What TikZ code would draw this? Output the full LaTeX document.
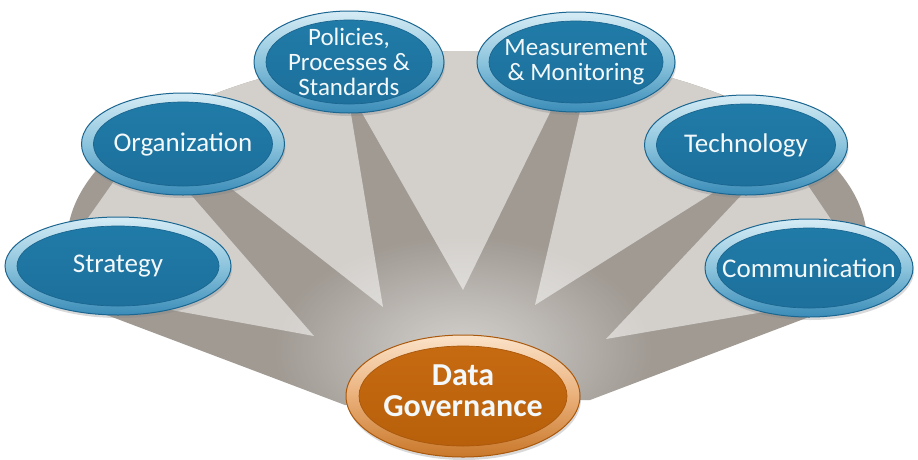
\documentclass[tikz,border=0pt]{standalone}
\usepackage{fontspec}
\newfontfamily\dgfont{Carlito}
\usetikzlibrary{shapes.geometric,shadows,fadings}
\definecolor{fandark}{HTML}{A09A93}
\definecolor{fanlight}{HTML}{D3D0CC}
\definecolor{bluedge}{HTML}{1B6690}
\definecolor{ringtop}{HTML}{D6ECF5}
\definecolor{ringmid}{HTML}{8CC4DD}
\definecolor{ringbot}{HTML}{3A8CB8}
\definecolor{coretop}{HTML}{217CA9}
\definecolor{corebot}{HTML}{1C6F9A}
\definecolor{oedge}{HTML}{A9580C}
\definecolor{oringtop}{HTML}{FBE3C9}
\definecolor{oringmid}{HTML}{EAB07A}
\definecolor{oringbot}{HTML}{C9782A}
\definecolor{ocoretop}{HTML}{C86C12}
\definecolor{ocorebot}{HTML}{B65E0A}
\definecolor{bubtextcol}{HTML}{F3F8FA}
\tikzfading[name=dgglow, inner color=transparent!0, outer color=transparent!100]
\begin{document}
\begin{tikzpicture}[x=1pt,y=-1pt,
  bubtext/.style={text=bubtextcol, font=\dgfont\fontsize{27}{25}\selectfont, align=center, inner sep=0pt},
  bubtextsm/.style={bubtext, font=\dgfont\fontsize{25}{25}\selectfont},
  dgtext/.style={text=bubtextcol, font=\dgfont\bfseries\fontsize{32}{31}\selectfont, align=center, inner sep=0pt},
  gap/.style={fill=fanlight},
  bluebub/.style 2 args={ellipse, minimum width=#1pt, minimum height=#2pt, inner sep=0pt,
    draw=bluedge, line width=1pt, top color=ringtop, bottom color=ringbot, middle color=ringmid,
    drop shadow={opacity=0.3, shadow xshift=1pt, shadow yshift=-3pt},
    path picture={\shade[top color=coretop, bottom color=corebot, draw=bluedge, line width=0.7pt]
      (path picture bounding box.center) ellipse [x radius={#1*0.5pt-12pt}, y radius={#2*0.5pt-9pt}];}},
  orangebub/.style 2 args={ellipse, minimum width=#1pt, minimum height=#2pt, inner sep=0pt,
    draw=oedge, line width=1pt, top color=oringtop, bottom color=oringbot, middle color=oringmid,
    drop shadow={opacity=0.3, shadow xshift=1pt, shadow yshift=-3pt},
    path picture={\shade[top color=ocoretop, bottom color=ocorebot, draw=oedge, line width=0.7pt]
      (path picture bounding box.center) ellipse [x radius={#1*0.5pt-13pt}, y radius={#2*0.5pt-11pt}];}},
]
\useasboundingbox (0,0) rectangle (918,459);
% fan background
\fill[fandark] (345,405) -- (67,300) -- (67,242)
  -- plot[domain=180:0,samples=90] ({467+400*cos(\x)},{242-191*sin(\x)})
  -- (867,295) -- (590,400) -- cycle;
\begin{scope}
  \clip (345,405) -- (67,300) -- (67,242)
    -- plot[domain=180:0,samples=90] ({467+400*cos(\x)},{242-191*sin(\x)})
    -- (867,295) -- (590,400) -- cycle;
  \fill[gap] (314,336) -- (40,286) -- (143,140) -- cycle;
  \fill[gap] (383,307) -- (182,150) -- (230,60) -- (347,90) -- cycle;
  \fill[gap] (463,290) -- (349,90) -- (380,20) -- (530,20) -- (561,90) -- cycle;
  \fill[gap] (535,305) -- (585,90) -- (650,30) -- (781,150) -- cycle;
  \fill[gap] (606,339) -- (784,150) -- (880,292) -- cycle;
  \fill[white, opacity=0.55, path fading=dgglow] (463,350) ellipse [x radius=190pt, y radius=115pt];
\end{scope}
% satellite bubbles
\node[bluebub={226}{98}] (strategy) at (118,266) {};
\node[bubtext] (strategytext) at (strategy) {Strategy};
\node[bluebub={203}{102}] (organization) at (183,144) {};
\node[bubtext] (organizationtext) at (organization) {Organization};
\node[bluebub={190}{102}] (policies) at (349,62) {};
\node[bubtextsm] (policiestext) at (policies) {Policies,\\Processes \&\\Standards};
\node[bluebub={198}{100}] (measurement) at (576,62) {};
\node[bubtextsm] (measurementtext) at (measurement) {Measurement\\\& Monitoring};
\node[bluebub={203}{100}] (technology) at (746,145) {};
\node[bubtext] (technologytext) at (technology) {Technology};
\node[bluebub={208}{98}] (communication) at (809,268) {};
\node[bubtext] (communicationtext) at (communication) {Communication};
% centre
\node[orangebub={234}{122}] (dg) at (463,396) {};
\node[dgtext] (dgtext) at ([yshift=5pt]dg.center) {Data\\Governance};
\end{tikzpicture}
\end{document}
